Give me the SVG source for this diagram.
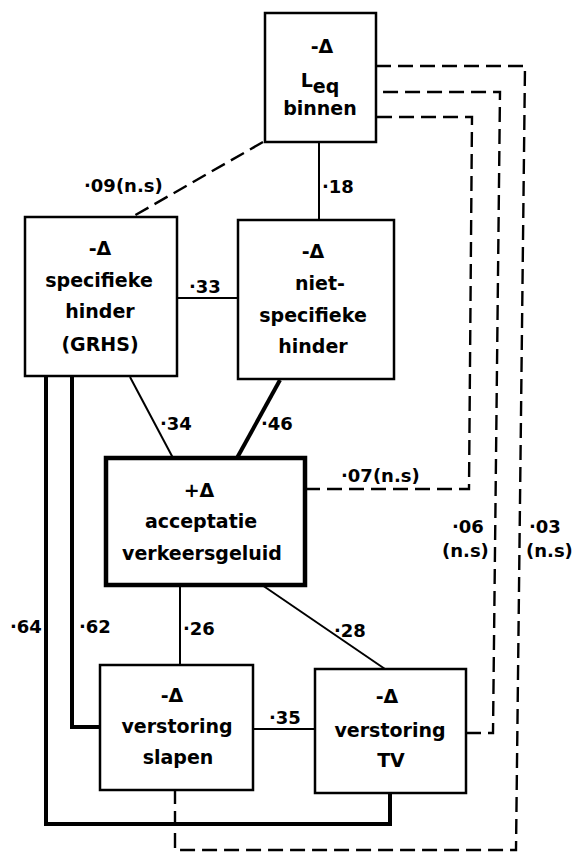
<svg xmlns="http://www.w3.org/2000/svg" width="575" height="853" viewBox="0 0 575 853">
<style>
.node{fill:#fff;stroke:#000;stroke-width:2.5}
.thick{fill:#fff;stroke:#000;stroke-width:4.5}
.t{font-family:"DejaVu Sans",sans-serif;font-weight:bold;font-size:19px;fill:#000;text-anchor:middle}
.l{font-family:"DejaVu Sans",sans-serif;font-weight:bold;font-size:18px;fill:#000}
.c{fill:none;stroke:#000;stroke-width:2}
.cb{fill:none;stroke:#000;stroke-width:4}
.d{fill:none;stroke:#000;stroke-width:2.4;stroke-dasharray:15 7}
</style>
<rect width="575" height="853" fill="#fff"/>
<g id="connectors">
<line class="c" x1="319" y1="142" x2="319" y2="220"/>
<line class="d" x1="263" y1="142" x2="132" y2="217"/>
<line class="c" x1="177" y1="298" x2="238" y2="298"/>
<line class="c" x1="130" y1="377" x2="173" y2="458"/>
<line class="cb" x1="280" y1="380" x2="237" y2="458"/>
<polyline class="d" points="305,489 469,489 472,117 376,117"/>
<polyline class="d" points="466,733 493,733 500,92 376,92"/>
<polyline class="d" points="376,66 525,66 516,850 175,850 175,791"/>
<line class="c" x1="180" y1="585" x2="180" y2="665"/>
<line class="c" x1="262" y1="585" x2="385" y2="669"/>
<polyline class="cb" points="72,376 72,727 100,727"/>
<polyline class="cb" points="46,376 46,824 390,824 390,793"/>
<line class="c" x1="253" y1="729" x2="315" y2="729"/>
<text class="l" x="322" y="193">·18</text>
<text class="l" x="84" y="192">·09(n.s)</text>
<text class="l" x="189" y="293">·33</text>
<text class="l" x="160" y="430">·34</text>
<text class="l" x="261" y="430">·46</text>
<text class="l" x="341" y="482">·07(n.s)</text>
<text class="l" x="183" y="635">·26</text>
<text class="l" x="334" y="637">·28</text>
<text class="l" x="79" y="633">·62</text>
<text class="l" x="10" y="633">·64</text>
<text class="l" x="269" y="724">·35</text>
<text class="l" x="452" y="533">·06</text>
<text class="l" x="442" y="557">(n.s)</text>
<text class="l" x="529" y="533">·03</text>
<text class="l" x="526" y="557">(n.s)</text>
</g>
<g id="leq-binnen">
<rect class="node" x="265" y="13" width="111" height="129"/>
<text class="t" x="322" y="53">-Δ</text>
<text class="t" x="320" y="87">L<tspan dy="6">eq</tspan></text>
<text class="t" x="320" y="115">binnen</text>
</g>
<g id="specifieke-hinder">
<rect class="node" x="25" y="217" width="152" height="159"/>
<text class="t" x="100" y="255">-Δ</text>
<text class="t" x="99" y="287">specifieke</text>
<text class="t" x="100" y="318">hinder</text>
<text class="t" x="100" y="351">(GRHS)</text>
</g>
<g id="niet-specifieke-hinder">
<rect class="node" x="238" y="220" width="156" height="159"/>
<text class="t" x="313" y="258">-Δ</text>
<text class="t" x="320" y="290">niet-</text>
<text class="t" x="313" y="322">specifieke</text>
<text class="t" x="313" y="353">hinder</text>
</g>
<g id="acceptatie">
<rect class="thick" x="106" y="458" width="199" height="127"/>
<text class="t" x="199" y="497">+Δ</text>
<text class="t" x="201" y="528">acceptatie</text>
<text class="t" x="202" y="560">verkeersgeluid</text>
</g>
<g id="verstoring-slapen">
<rect class="node" x="100" y="665" width="153" height="125"/>
<text class="t" x="172" y="702">-Δ</text>
<text class="t" x="177" y="733">verstoring</text>
<text class="t" x="178" y="764">slapen</text>
</g>
<g id="verstoring-tv">
<rect class="node" x="315" y="669" width="151" height="124"/>
<text class="t" x="387" y="703">-Δ</text>
<text class="t" x="390" y="737">verstoring</text>
<text class="t" x="391" y="767">TV</text>
</g>
</svg>
